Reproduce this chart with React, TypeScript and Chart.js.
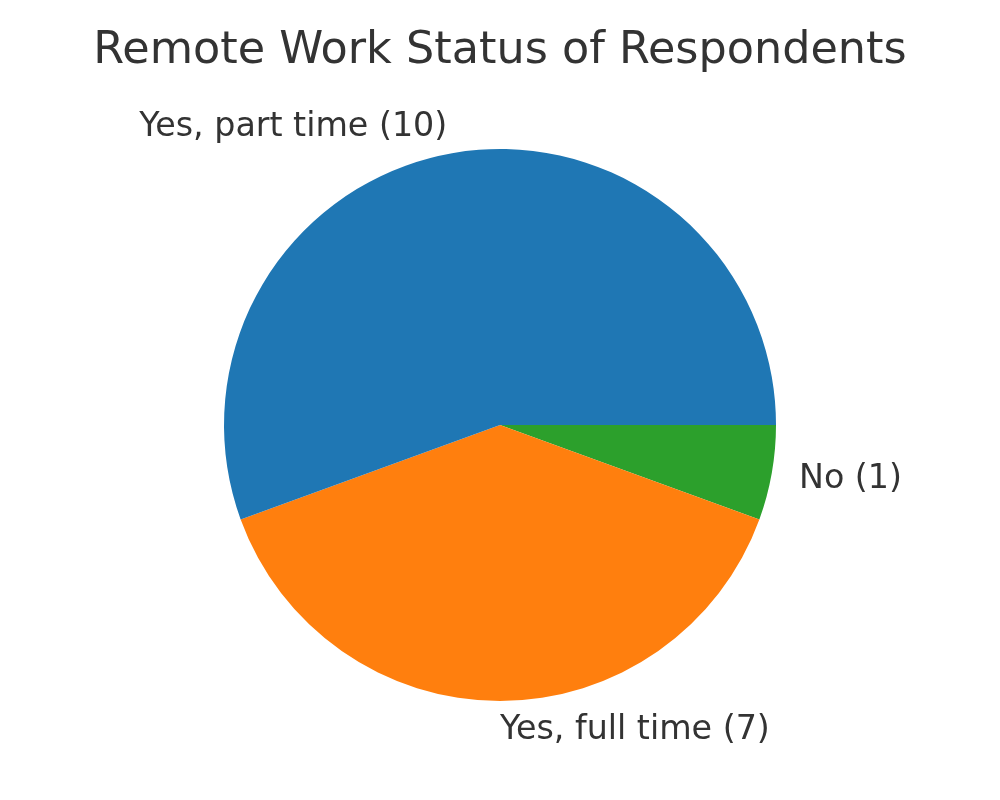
import React, { useEffect, useRef } from "react";
import { Chart, registerables } from "chart.js";

Chart.register(...registerables);

const TITLE = "Remote Work Status of Respondents";
const categories = ["Yes, part time", "Yes, full time", "No"];
const counts = [10, 7, 1];
const colors = ["#1f77b4", "#ff7f0e", "#2ca02c"];
const TEXT_COLOR = "#333333";
const FONT = "'DejaVu Sans', sans-serif";

export default function App() {
  const ref = useRef<HTMLCanvasElement | null>(null);

  useEffect(() => {
    document.body.style.margin = "0";
    const canvas = ref.current;
    if (!canvas) return;
    // matplotlib draws counter-clockwise from 3 o'clock; Chart.js draws clockwise,
    // so reverse the order and start at 3 o'clock.
    const labels = categories.map((c, i) => `${c} (${counts[i]})`).reverse();
    const data = [...counts].reverse();
    const bg = [...colors].reverse();

    const labelPlugin = {
      id: "outerLabels",
      afterDraw(chart: any) {
        const ctx = chart.ctx;
        ctx.save();
        ctx.fillStyle = TEXT_COLOR;
        ctx.font = `44.5px ${FONT}`;
        ctx.textAlign = "center";
        ctx.textBaseline = "middle";
        ctx.fillText(TITLE, chart.width / 2, 51);

        ctx.font = `33.3px ${FONT}`;
        const meta = chart.getDatasetMeta(0);
        meta.data.forEach((arc: any, i: number) => {
          const p = arc.getProps(["x", "y", "startAngle", "endAngle", "outerRadius"], true);
          const mid = (p.startAngle + p.endAngle) / 2;
          const r = p.outerRadius * 1.1;
          const x = p.x + Math.cos(mid) * r;
          const y = p.y + Math.sin(mid) * r;
          ctx.textAlign = Math.cos(mid) < -1e-6 ? "right" : "left";
          ctx.textBaseline = "middle";
          ctx.fillText(chart.data.labels[i], x, y + 1.5);
        });
        ctx.restore();
      },
    };

    const chart = new Chart(canvas, {
      type: "pie",
      data: {
        labels,
        datasets: [
          {
            data,
            backgroundColor: bg,
            borderWidth: 0,
          },
        ],
      },
      options: {
        responsive: false,
        animation: false,
        rotation: 90,
        layout: { padding: { top: 149, bottom: 99, left: 224, right: 224 } },
        plugins: {
          legend: { display: false },
          title: { display: false },
          tooltip: { enabled: false },
        },
      },
      plugins: [labelPlugin],
    });
    return () => chart.destroy();
  }, []);

  return (
    <div style={{ width: 1000, height: 800, background: "#ffffff" }}>
      <canvas ref={ref} width={1000} height={800} style={{ display: "block" }} />
    </div>
  );
}
